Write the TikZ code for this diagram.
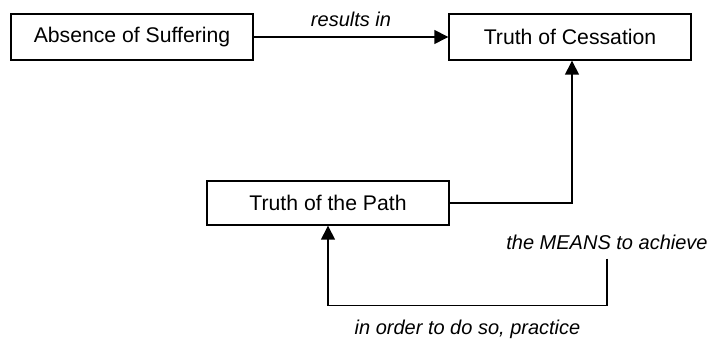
\documentclass[tikz,border=0pt]{standalone}
\usepackage{fontspec}
\setmainfont{Liberation Sans}
\usetikzlibrary{arrows.meta, positioning}
\tikzset{%
	box/.style={draw, rectangle, line width=0.7pt, minimum width=121pt,%
		minimum height=23pt, inner sep=0pt},
	link/.style={line width=0.7pt, -{Triangle[length=7pt, width=7pt]}},
	plain/.style={line width=0.7pt},
	note/.style={font=\itshape, inner sep=1pt}
}

\begin{document}
\begin{tikzpicture}[x=0.5pt, y=-0.5pt, font=\fontsize{10.6}{12.7}\selectfont]
  \useasboundingbox (0,0) rectangle (717,341);
  \node[box] (absence) at (132,37) {Absence of Suffering};
  \node[box] (cessation) at (570,37) {Truth of Cessation};
  \node[box, minimum height=22pt] (path) at (328,203) {Truth of the Path};
  \node[note] (means) at (607,242) {the MEANS to achieve};
  \coordinate[below=3.5pt of means] (meansend);

  \draw[link] (absence) -- node[note, above=4pt]{results in} (cessation);
  \draw[link] (path.east) -| ([xshift=1pt]cessation.south);
  \draw[link] (meansend) -- ++(0,47) -| node[note, pos=0.25, below=6pt]{in order to do so, practice} (path.south);
\end{tikzpicture}
\end{document}
